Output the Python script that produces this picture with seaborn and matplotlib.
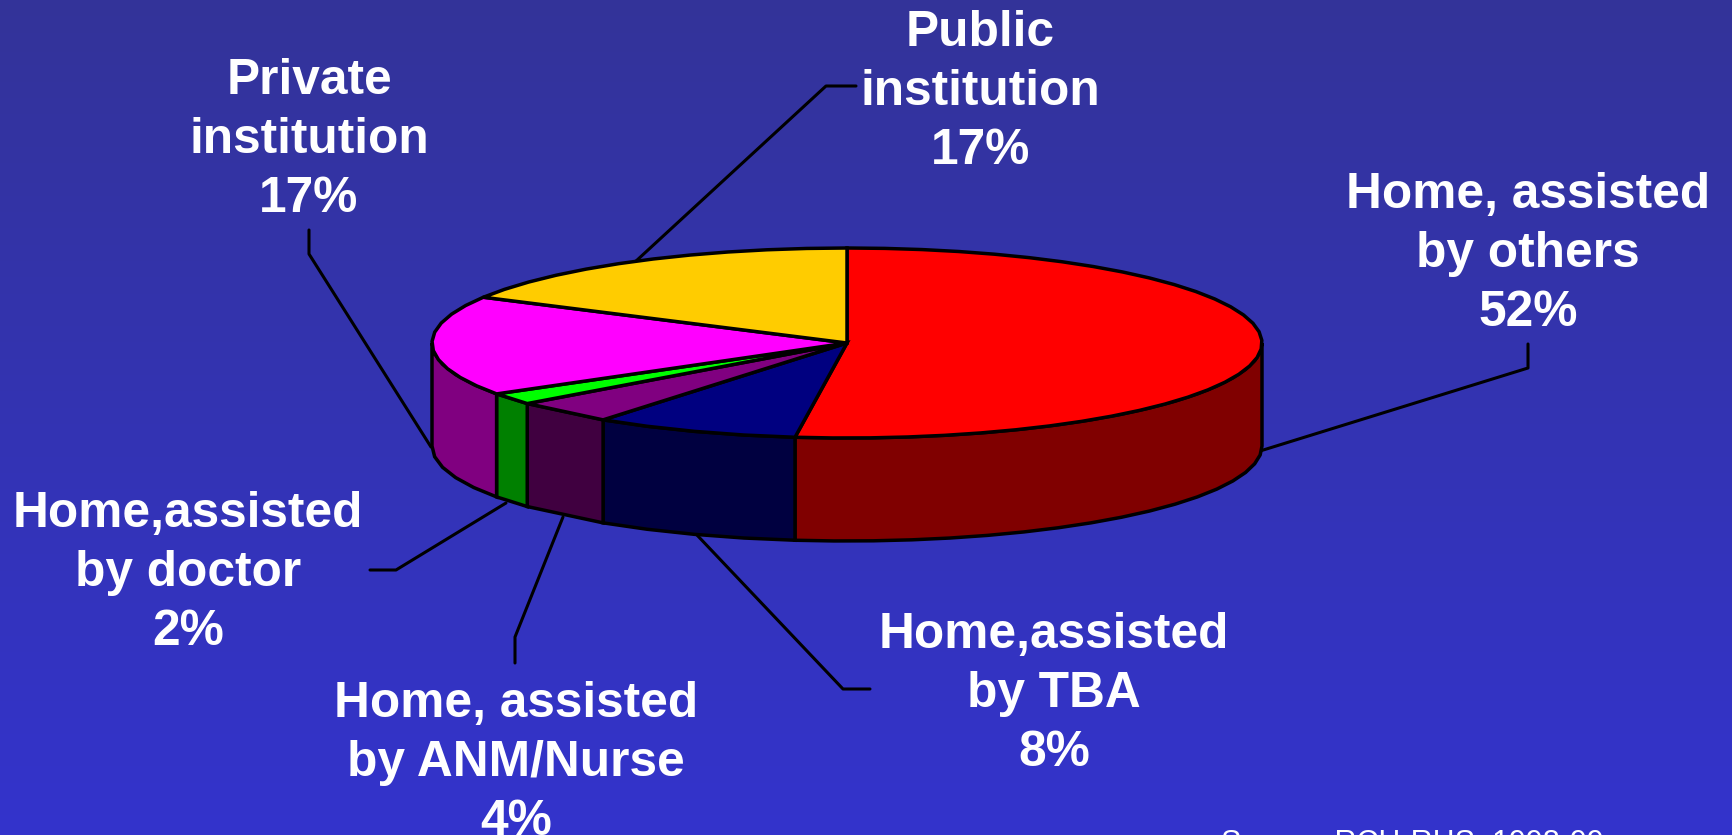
# Place of delivery pie, drawn as a tilted 3D pie

# imports
import numpy as np
import matplotlib.pyplot as plt
import seaborn as sns

# data, clockwise from the top of the pie
categories = ['Home, assisted\nby others', 'Home,assisted\nby TBA',
              'Home, assisted\nby ANM/Nurse', 'Home,assisted\nby doctor',
              'Private\ninstitution', 'Public\ninstitution']
shares = [52, 8, 4, 2, 17, 17]
source_note = 'Source: RCH-RHS, 1998-99'

top_colors = ['#ff0000', '#000080', '#800080', '#00ff00', '#ff00ff', '#ffcc00']
side_colors = ['#800000', '#000040', '#400040', '#008000', '#800080', '#806600']

# label centres and leader lines, in pixels of the 1732x835 figure
label_xy = [(1528, 254), (1054, 694), (516, 763), (188, 573), (309, 140), (980, 92)]
leaders = [[(1260, 451), (1528, 368), (1528, 344)],
           [(696, 534), (843, 689), (870, 689)],
           [(563, 517), (515, 637), (515, 663)],
           [(506, 503), (396, 570), (370, 570)],
           [(431, 447), (309, 254), (309, 230)],
           [(635, 262), (826, 86), (856, 86)]]

# pie geometry, in pixels
cx, cy = 847, 343
rx, ry = 415, 95
depth = 103

sns.set_theme(style='white')
plt.rcParams['font.family'] = ['Liberation Sans', 'DejaVu Sans']

fig, ax = plt.subplots(figsize=(17.32, 8.35), dpi=100)
ax.set_position([0, 0, 1, 1])
ax.set_axis_off()

# background fades from dark blue to a brighter blue
gradient = sns.blend_palette(['#333399', '#3333cc'], 256)
ax.imshow(np.array(gradient)[:, None, :], extent=(0, 1732, 835, 0), aspect='auto', zorder=0)


def rim(start, end):
    '''Points on the rim between two clockwise angles, in degrees from the top.'''
    steps = max(int(abs(end - start) / 5), 2)
    a = np.radians(np.linspace(start, end, steps))
    return cx + rx * np.sin(a), cy - ry * np.cos(a)


edges = np.concatenate([[0], np.cumsum(shares)]) * 3.6

# side walls, only the front half of the rim can be seen
for i in range(len(shares)):
    start, end = max(edges[i], 90), min(edges[i + 1], 270)
    if start >= end:
        continue
    x, y = rim(start, end)
    ax.fill(np.r_[x, x[::-1]], np.r_[y, y[::-1] + depth],
            facecolor=side_colors[i], edgecolor='black', linewidth=2.5, zorder=2)

# top face
for i in range(len(shares)):
    x, y = rim(edges[i], edges[i + 1])
    ax.fill(np.r_[cx, x], np.r_[cy, y],
            facecolor=top_colors[i], edgecolor='black', linewidth=2.5, zorder=3)

for line in leaders:
    ax.plot(*zip(*line), color='black', linewidth=2.2, zorder=1)

for label, share, (x, y) in zip(categories, shares, label_xy):
    ax.text(x, y, f'{label}\n{share}%', color='white', fontsize=35.7, fontweight='bold',
            ha='center', va='center', linespacing=1.35, zorder=4)

ax.text(1412, 829, source_note, color='white', fontsize=22, ha='center', va='top', zorder=4)

ax.set_xlim(0, 1732)
ax.set_ylim(835, 0)

fig.savefig('out.png', dpi=100)
